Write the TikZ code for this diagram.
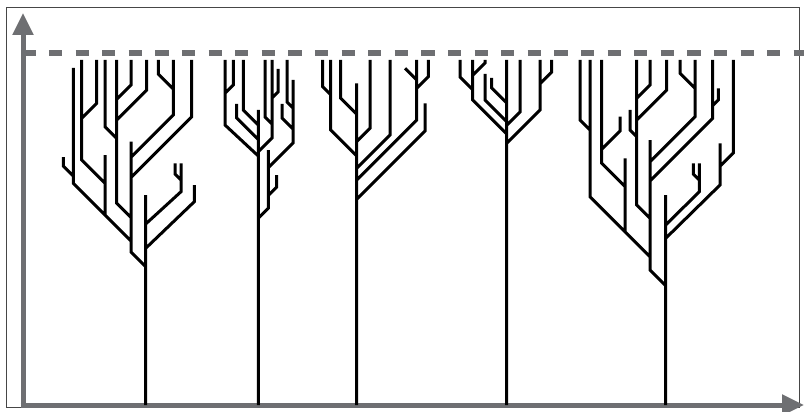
\documentclass[tikz,border=0pt]{standalone}
\usetikzlibrary{arrows.meta}
\definecolor{axisgray}{RGB}{110,111,114}
\definecolor{framegray}{RGB}{70,70,70}
\begin{document}
\begin{tikzpicture}[x=1pt,y=-1pt,
  branch/.style={line width=3pt, black, line join=miter, line cap=butt},
  axisline/.style={line width=5pt, axisgray, -{Triangle[length=22pt,width=20pt]}},
  guide/.style={line width=6pt, axisgray, dash pattern=on 13.3pt off 13.3pt}]
\useasboundingbox (0,0) rectangle (804,412);
% frame
\draw[framegray, line width=1pt] (6.5,7.5) rectangle (799.5,407.5);
% guide line
\draw[guide] (22.3,53) -- (804,53);
% axes
\draw[axisline] (23,407) -- (23,13);
\draw[axisline] (20.5,405) -- (804,405);

% ---------- tree 1 ----------
\draw[branch]
  (73.3,68) -- (73.3,183.3) -- (131,241)
  (63.3,157) -- (63.3,166) -- (73.3,176)
  (81.7,60) -- (81.7,160) -- (105,183.3)
  (96.7,60) -- (96.7,103.3) -- (81.7,118.3)
  (105,155) -- (105,215.5)
  (105,60) -- (105,126.7) -- (116.7,138.4)
  (116.7,60) -- (116.7,203.3) -- (131,217.6)
  (131,60) -- (131,85) -- (116.7,99.3)
  (146.7,60) -- (146.7,90) -- (116.7,120)
  (158.3,60) -- (158.3,74) -- (173.3,89)
  (173.3,60) -- (173.3,115) -- (131,157.3)
  (191.7,60) -- (191.7,116.7) -- (131,177.4)
  (131,141.7) -- (131,252) -- (145.7,266.7)
  (145.7,195) -- (145.7,405)
  (175,163.3) -- (175,174) -- (181,180)
  (181,163.3) -- (181,191.7) -- (145.7,224)
  (194.3,185) -- (194.3,201.7) -- (145.7,248.3);

% ---------- tree 2 ----------
\draw[branch]
  (225,60) -- (225,125) -- (258.3,156)
  (233.3,60) -- (233.3,85) -- (225,93.3)
  (243.3,60) -- (243.3,110) -- (258.3,125)
  (236.7,104) -- (236.7,118) -- (258.3,139.6)
  (258.3,110) -- (258.3,405)
  (265,60) -- (265,117) -- (272,124)
  (272,60) -- (272,138) -- (258.3,151.7)
  (278,69) -- (278,92) -- (272,98)
  (287,60) -- (287,102) -- (293,108)
  (293,80) -- (293,143) -- (268.3,167.7)
  (282,104) -- (282,118) -- (293,129)
  (268.3,150) -- (268.3,208.3) -- (258.3,218.3)
  (276.7,175) -- (276.7,187) -- (268.3,195.4);

% ---------- tree 3 ----------
\draw[branch]
  (322.7,60) -- (322.7,86.7) -- (330.7,94.7)
  (330.7,60) -- (330.7,130) -- (356.7,156)
  (340.7,60) -- (340.7,98.3) -- (356.7,114.3)
  (356.7,83.3) -- (356.7,405)
  (370,60) -- (370,128.3) -- (356.7,141.6)
  (390,60) -- (390,135) -- (356.7,168.3)
  (405,68.3) -- (416.7,80)
  (416.7,60) -- (416.7,120) -- (356.7,180)
  (428.3,60) -- (428.3,76.7) -- (416.7,88.4)
  (425,103.3) -- (425,131) -- (356.7,199.3);

% ---------- tree 4 ----------
\draw[branch]
  (460,60) -- (460,77) -- (472.7,89.7)
  (472.7,60) -- (472.7,100) -- (506.7,134)
  (485,60) -- (485,63) -- (472.7,75.3)
  (485,74) -- (485,100) -- (506.7,121.7)
  (491.7,78) -- (491.7,88) -- (506.7,103)
  (506.7,60) -- (506.7,405)
  (520,60) -- (520,112) -- (506.7,125.3)
  (540,60) -- (540,110) -- (506.7,143.3)
  (551.7,60) -- (551.7,72) -- (540,83.7);

% ---------- tree 5 ----------
\draw[branch]
  (580,60) -- (580,120) -- (590,130)
  (590,60) -- (590,196.7) -- (650,256.7)
  (601.7,60) -- (601.7,163.3) -- (625,186.6)
  (620,116.7) -- (620,131) -- (601.7,149.3)
  (625,158.3) -- (625,232.5)
  (630,110) -- (630,130) -- (636.7,136.7)
  (636.7,60) -- (636.7,205) -- (650,218.3)
  (650,60) -- (650,85) -- (636.7,98.3)
  (666.7,60) -- (666.7,90) -- (636.7,120)
  (680,60) -- (680,73.3) -- (695,88.3)
  (695,60) -- (695,116.7) -- (650,161.7)
  (712.7,60) -- (712.7,118.3) -- (650,181)
  (718.3,88.3) -- (718.3,100) -- (712.7,105.6)
  (650,140) -- (650,270) -- (665.7,285.7)
  (665.7,195) -- (665.7,405)
  (693.3,163.3) -- (693.3,174) -- (699.3,180)
  (699.3,163.3) -- (699.3,191.7) -- (665.7,225)
  (720,143.3) -- (720,185) -- (665.7,238.3)
  (733.3,60) -- (733.3,153) -- (720,166.3);
\end{tikzpicture}
\end{document}
